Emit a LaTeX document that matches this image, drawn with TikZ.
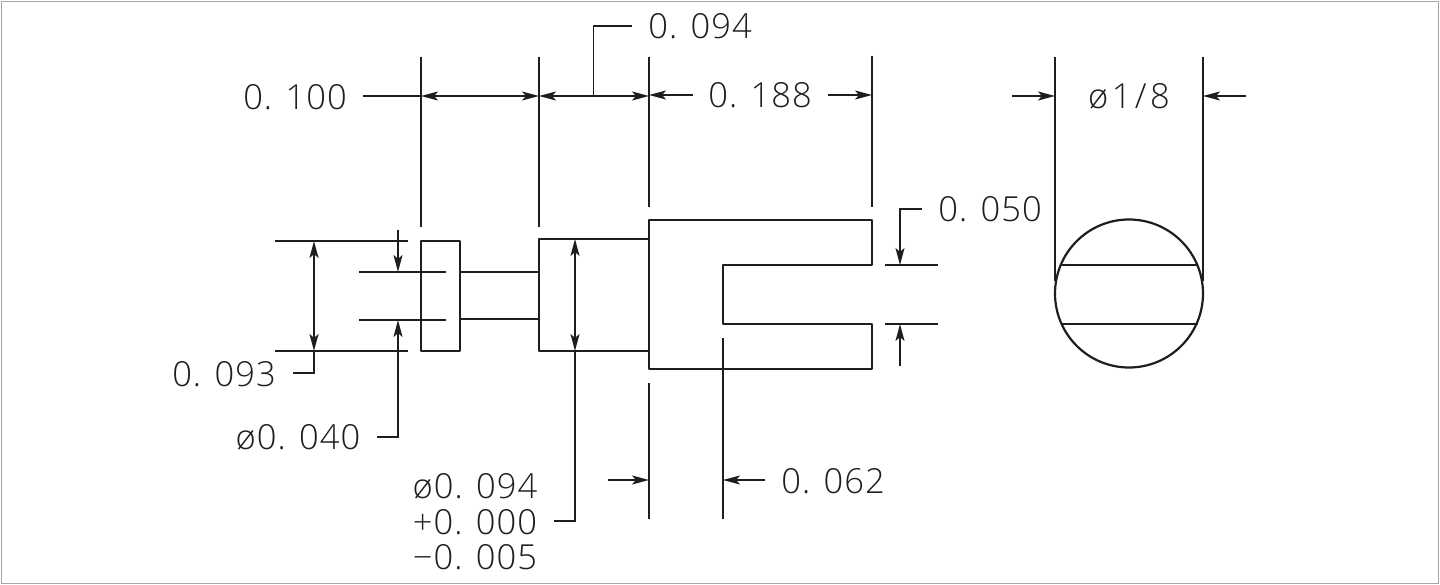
\documentclass[tikz,border=0pt]{standalone}
\usepackage{fontspec}
\setmainfont{Open Sans}[UprightFont=* Light,LetterSpace=3]
\newfontfamily\widefont{Open Sans}[UprightFont=* Light,LetterSpace=10]
\usetikzlibrary{arrows.meta}
\definecolor{ink}{HTML}{1E1E1E}
\tikzset{
  part/.style={draw=ink,line width=2.2pt,line cap=round,line join=round},
  dim/.style={draw=ink,line width=1.8pt},
  tip/.style={-{Stealth[length=17pt,width=9pt,inset=4pt]}},
  dimdbl/.style={dim,{Stealth[length=17pt,width=9pt,inset=4pt]}-{Stealth[length=17pt,width=9pt,inset=4pt]}},
  lbl/.style={anchor=base,inner sep=0pt,text=ink,font=\fontsize{34.5}{34.5}\selectfont},
}
\begin{document}
\begin{tikzpicture}[x=1pt,y=-1pt]
\useasboundingbox (0,0) rectangle (1440,585);
\fill[white] (0,0) rectangle (1440,585);
\draw[draw=gray!70,line width=1pt] (1.5,2) rectangle (1438,583);

% parts
\draw[part] (421,241) rectangle (460,351);
\draw[part] (460,272) -- (539,272);
\draw[part] (460,319) -- (539,319);
\draw[part] (539,239) rectangle (649,351);
\draw[part] (649,220) -- (872,220) -- (872,265) -- (723,265) -- (723,324) -- (872,324) -- (872,369) -- (649,369) -- cycle;
\draw[part] (1129,293.5) circle (74);
\draw[part] (1062,265) -- (1197,265);
\draw[part] (1062,324) -- (1197,324);

% extension lines
\foreach \xa/\ya/\yb in {421/57/227, 539/57/227, 649/57/207, 872/56/207, 649/383/519, 723/338/519, 1055/57/281, 1203/57/281}
  \draw[dim] (\xa,\ya) -- (\xa,\yb);
\draw[dim] (275,241) -- (408,241);
\draw[dim] (275,351) -- (408,351);
\draw[dim] (359,272) -- (446,272);
\draw[dim] (359,320) -- (446,320);
\draw[dim] (885,265) -- (938,265);
\draw[dim] (885,324) -- (938,324);

% dimension arrows and leaders
\draw[dim] (363,96) -- (421,96);
\draw[dimdbl] (421,96) -- (539,96);
\draw[dimdbl] (539,96) -- (649,96);
\draw[dim] (593.5,96) -- (593.5,26) -- (632,26);
\draw[dim,tip] (693,95) -- (649,95);
\draw[dim,tip] (828,95) -- (872,95);

\draw[dimdbl] (314,241) -- (314,351);
\draw[dim] (314,351) -- (314,373) -- (293,373);
\draw[dim,tip] (398,230) -- (398,272);
\draw[dim,tip] (377,437) -- (398,437) -- (398,320);

\draw[dimdbl] (575,239) -- (575,351);
\draw[dim] (575,351) -- (575,521) -- (554,521);

\draw[dim,tip] (608,480) -- (649,480);
\draw[dim,tip] (765,480) -- (723,480);

\draw[dim,tip] (922,209) -- (900,209) -- (900,265);
\draw[dim,tip] (900,366) -- (900,324);

\draw[dim,tip] (1012,96) -- (1055,96);
\draw[dim,tip] (1246,96) -- (1203,96);

% labels
\node[lbl] (t100) at (295,110) {0. 100};
\node[lbl] (t094) at (700,39) {0. 094};
\node[lbl] (t188) at (760,108) {0. 188};
\node[lbl] (t18)  at (1129,109) {\widefont ø1/8};
\node[lbl] (t050) at (990,222) {0. 050};
\node[lbl] (t093) at (224,386) {0. 093};
\node[lbl] (t040) at (298,449) {ø0. 040};
\node[lbl] (t062) at (833,493) {0. 062};
\node[lbl] (t094b) at (475,498) {ø0. 094};
\node[lbl] (tplus) at (475,534) {+0. 000};
\node[lbl] (tminus) at (475,569) {−0. 005};
\end{tikzpicture}
\end{document}
